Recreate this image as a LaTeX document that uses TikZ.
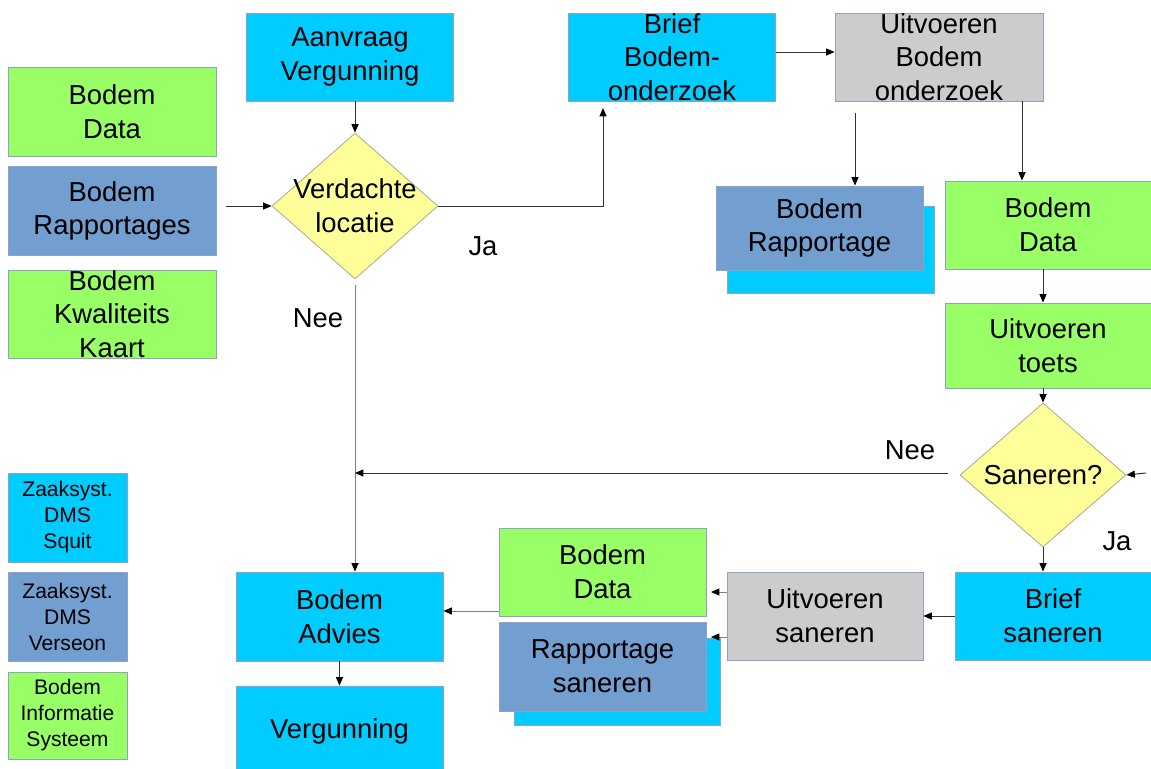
\documentclass[tikz,border=0pt]{standalone}
\usepackage{fontspec}
\setmainfont{Liberation Sans}
\usetikzlibrary{shapes.geometric,arrows.meta}
\definecolor{cyanfill}{HTML}{00CCFF}
\definecolor{greenfill}{HTML}{99FF66}
\definecolor{bluefill}{HTML}{729FCF}
\definecolor{grayfill}{HTML}{CCCCCC}
\definecolor{yellowfill}{HTML}{FFFF99}
\definecolor{boxline}{HTML}{8EA2C6}
\definecolor{diamline}{HTML}{A8B090}
\definecolor{linecol}{HTML}{333333}
\tikzset{
    box/.style 2 args={rectangle, draw=boxline, line width=0.6pt, align=center, inner sep=0pt,
        minimum width=#1*0.025cm, minimum height=#2*0.025cm, font=\fontsize{19.5}{24}\selectfont},
    cyanbox/.style 2 args={box={#1}{#2}, fill=cyanfill},
    greenbox/.style 2 args={box={#1}{#2}, fill=greenfill},
    bluebox/.style 2 args={box={#1}{#2}, fill=bluefill},
    graybox/.style 2 args={box={#1}{#2}, fill=grayfill},
    legend/.style={font=\fontsize{15}{18.5}\selectfont},
    decision/.style 2 args={diamond, draw=diamline, line width=0.6pt, fill=yellowfill, inner sep=0pt,
        minimum width=#1*0.025cm, minimum height=#2*0.025cm},
    dtext/.style={align=center, font=\fontsize{19.5}{24}\selectfont},
    answer/.style={font=\fontsize{19.5}{24}\selectfont},
    arr/.style={draw=linecol, line width=0.7pt, -{Triangle[length=6pt,width=5pt,color=black]}},
    lightarr/.style={arr, draw=gray},
}
\begin{document}
\begin{tikzpicture}[x=0.025cm, y=-0.025cm]
    \useasboundingbox[fill=white] (0, 0) rectangle (1151, 769);

    \node[greenbox={208}{89}] (ldata) at (112, 112) {Bodem\\Data};
    \node[bluebox={208}{89}] (lrapp) at (112, 211) {Bodem\\Rapportages};
    \node[greenbox={208}{88}] (lkaart) at (112, 314) {Bodem\\Kwaliteits\\Kaart};

    \node[cyanbox={119}{89}, legend] (leg1) at (67.5, 517.5) {Zaaksyst.\\DMS\\Squit};
    \node[bluebox={119}{89}, legend] (leg2) at (67.5, 616.5) {Zaaksyst.\\DMS\\Verseon};
    \node[greenbox={119}{87}, legend] (leg3) at (67.5, 715.5) {Bodem\\Informatie\\Systeem};

    \node[cyanbox={207}{88}] (aanvraag) at (350, 57) {Aanvraag\\Vergunning};
    \node[decision={166}{146}] (verd) at (355, 206) {};
    \node[dtext] (verdtxt) at (verd.center) {Verdachte\\locatie};
    \node[answer] (ja1) at (483, 246) {Ja};
    \node[answer] (nee1) at (318, 318) {Nee};

    \node[cyanbox={207}{88}] (brief) at (672, 57) {Brief\\Bodem-\\onderzoek};
    \node[graybox={208}{88}] (uitv) at (939, 57) {Uitvoeren\\Bodem\\onderzoek};

    \node[box={207}{87}, fill=cyanfill] (rappsh) at (830.5, 249.5) {};
    \node[bluebox={207}{84}] (rapp) at (819.5, 228) {Bodem\\Rapportage};
    \node[greenbox={206}{88}] (rdata) at (1048, 225) {Bodem\\Data};
    \node[greenbox={206}{85}] (toets) at (1048, 345.5) {Uitvoeren\\toets};

    \node[decision={166}{144}] (san) at (1043, 475) {};
    \node[dtext] (santxt) at (san.center) {Saneren?};
    \node[answer] (nee2) at (910, 450) {Nee};
    \node[answer] (ja2) at (1117, 541) {Ja};

    \node[cyanbox={196}{88}] (briefs) at (1053, 616) {Brief\\saneren};
    \node[graybox={196}{88}] (uitvs) at (825, 616) {Uitvoeren\\saneren};
    \node[greenbox={207}{88}] (bdata2) at (602.5, 572) {Bodem\\Data};
    \node[box={206}{87}, fill=cyanfill] (rsansh) at (617, 681.5) {};
    \node[bluebox={207}{89}] (rsan) at (602.5, 666.5) {Rapportage\\saneren};

    \node[cyanbox={207}{89}] (advies) at (339.5, 616.5) {Bodem\\Advies};
    \node[cyanbox={207}{90}] (vergun) at (339.5, 731) {Vergunning};

    \coordinate (in1) at (226, 206);
    \coordinate (jaup) at (603, 108);
    \coordinate (neestart) at (355, 285);
    \coordinate (bu) at (776, 52);
    \coordinate (uv1) at (855, 113);
    \coordinate (uv2) at (1022, 101);
    \coordinate (in2) at (1146, 473);
    \coordinate (neeend) at (948, 473);
    \coordinate (us1) at (727, 592);
    \coordinate (us1e) at (711, 592);
    \coordinate (us2) at (727, 637);
    \coordinate (us2e) at (711, 637);
    \coordinate (bd2) at (499, 611);

    \draw[arr] (in1) -- (verd.west);
    \draw[arr] (aanvraag.south -| verd.north) -- (verd.north);
    \draw[arr] (verd.east) -| (jaup);
    \draw[lightarr] (neestart) -- (neestart |- advies.north);
    \draw[arr] (bu) -- (bu -| uitv.west);
    \draw[arr] (uv1) -- (uv1 |- rapp.north);
    \draw[arr] (uv2) -- (uv2 |- rdata.north);
    \draw[arr] (san.north |- rdata.south) -- (san.north |- toets.north);
    \draw[arr] (san.north |- toets.south) -- (san.north);
    \draw[arr] (in2) -- (san.east);
    \draw[arr] (neeend) -- (neeend -| neestart);
    \draw[arr] (san.south) -- (san.south |- briefs.north);
    \draw[arr] (briefs.west) -- (uitvs.east);
    \draw[lightarr] (us1) -- (us1e);
    \draw[lightarr] (us2) -- (us2e);
    \draw[lightarr] (bd2) -- (bd2 -| advies.east);
    \draw[arr] (advies.south) -- (advies.south |- vergun.north);
\end{tikzpicture}
\end{document}
